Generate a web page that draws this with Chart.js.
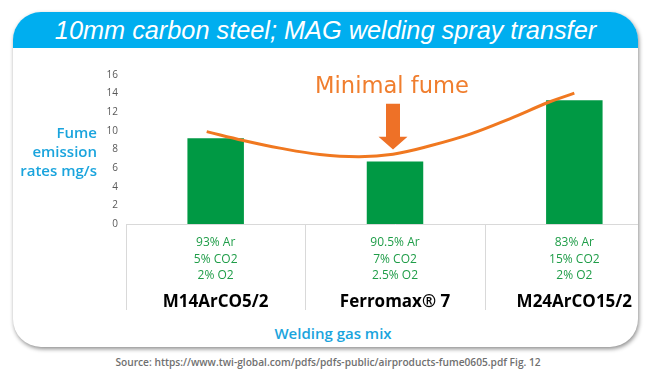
<!DOCTYPE html>
<html>
<head>
<meta charset="utf-8">
<script src="https://cdn.jsdelivr.net/npm/chart.js@4/dist/chart.umd.min.js"></script>
<style>
  body { margin: 0; background: #fff; width: 650px; height: 376px; position: relative; overflow: hidden; }
  #card { position: absolute; left: 13px; top: 12px; width: 625px; height: 335px; border-radius: 28px;
    overflow: hidden; background: #fff; box-shadow: 1px 2px 4px rgba(0,0,0,0.45); }
  #head { position: absolute; left: 0; top: 0; width: 100%; height: 36px; background: #00AEEF;
    color: #fff; font: italic 25.3px "Liberation Sans", Arial, sans-serif; text-align: center; line-height: 36px; }
  #myChart { position: absolute; left: -13px; top: 48px; }
  .lbl { position: absolute; font-family: "Open Sans", sans-serif; font-weight: 600; }
  #ytitle { left: 0; top: 123px; width: 97px; text-align: right; font-size: 15px; line-height: 19px; color: #1AA4DD; }
  #xtitle { left: 233px; top: 323px; width: 200px; text-align: center; font-size: 15px; line-height: 20px; color: #1AA4DD; }
  #source { left: 0; top: 354px; width: 656px; text-align: center; font-size: 10.2px; line-height: 16px; color: #707070; }
</style>
</head>
<body>
<div id="card">
  <div id="head">10mm carbon steel; MAG welding spray transfer</div>
  <canvas id="myChart" width="680" height="254"></canvas>
</div>
<div class="lbl" id="ytitle">Fume<br>emission<br>rates mg/s</div>
<div class="lbl" id="xtitle">Welding gas mix</div>
<div class="lbl" id="source">Source: https://www.twi-global.com/pdfs/pdfs-public/airproducts-fume0605.pdf Fig. 12</div>
<script>
const gasNames = ['M14ArCO5/2', 'Ferromax® 7', 'M24ArCO15/2']
const gasMix = [
	['93% Ar', '5% CO2', '2% O2'],
	['90.5% Ar', '7% CO2', '2.5% O2'],
	['83% Ar', '15% CO2', '2% O2']
]
const fumeRates = [9.2, 6.7, 13.3]
// trend curve: x in category index units
const curveX = [-0.05, 0.156, 0.358, 0.581, 0.8, 0.989, 1.196, 1.419, 1.64, 1.86, 2.0]
const curveY = [9.92, 8.96, 8.15, 7.47, 7.23, 7.5, 8.4, 9.65, 11.3, 13.1, 14.05]
const yTicks = [0, 2, 4, 6, 8, 10, 12, 14, 16]

const green = '#009944'
const orange = '#F07820'

// dividers under the axis + "Minimal fume" arrow
const decor = {
	id: 'decor',
	afterDraw(chart) {
		const ctx = chart.ctx
		const x = chart.scales.x, xn = chart.scales.xn, y = chart.scales.y
		ctx.save()
		ctx.strokeStyle = '#d9d9d9'
		ctx.lineWidth = 1
		for (let i = 0; i <= gasNames.length; i++) {
			const px = Math.round(x.getPixelForValue(i - 0.5)) + 0.5
			ctx.beginPath()
			ctx.moveTo(px, x.top)
			ctx.lineTo(px, xn.bottom - 4)
			ctx.stroke()
		}
		const cx = x.getPixelForValue(1) - 2
		const top = y.getPixelForValue(12.9), neck = y.getPixelForValue(9.37), tip = y.getPixelForValue(8.0)
		ctx.fillStyle = '#EE7127'
		ctx.beginPath()
		ctx.moveTo(cx - 7, top); ctx.lineTo(cx + 7, top); ctx.lineTo(cx + 7, neck)
		ctx.lineTo(cx + 14.5, neck); ctx.lineTo(cx, tip); ctx.lineTo(cx - 14.5, neck)
		ctx.lineTo(cx - 7, neck); ctx.closePath()
		ctx.fill()
		ctx.fillStyle = '#F07E2E'
		ctx.font = '22.6px "DejaVu Sans", sans-serif'
		ctx.textAlign = 'center'
		ctx.textBaseline = 'alphabetic'
		ctx.fillText('Minimal fume', cx - 1, y.getPixelForValue(14.08))
		ctx.restore()
	}
}

window.onload = () => {
	const ctx = document.getElementById('myChart').getContext('2d')
	new Chart(ctx, {
		type: 'bar',
		data: {
			datasets: [
				{
					type: 'line',
					data: curveX.map((v, i) => ({x: v, y: curveY[i]})),
					xAxisID: 'xc',
					borderColor: orange,
					borderWidth: 3,
					pointRadius: 0,
					tension: 0.4,
					order: 0
				},
				{
					type: 'bar',
					data: fumeRates,
					xAxisID: 'x',
					backgroundColor: green,
					grouped: false,
					categoryPercentage: 1,
					barPercentage: 0.315,
					order: 1
				}
			]
		},
		options: {
			responsive: false,
			animation: false,
			layout: {padding: {left: 0, right: 16, top: 15, bottom: 0}},
			plugins: {legend: {display: false}, tooltip: {enabled: false}},
			scales: {
				x: {
					type: 'category',
					labels: gasMix,
					position: 'bottom',
					weight: 0,
					offset: true,
					grid: {display: false, drawTicks: false},
					border: {display: true, color: '#d9d9d9'},
					ticks: {color: '#1F9D48', padding: 10, maxRotation: 0, autoSkip: false,
						font: {family: 'Open Sans', size: 12, lineHeight: 1.4}},
					afterFit: s => { s.height = 60 }
				},
				xn: {
					type: 'category',
					labels: gasNames,
					position: 'bottom',
					weight: 1,
					offset: true,
					grid: {display: false, drawTicks: false},
					border: {display: false},
					ticks: {color: '#000', padding: 8, maxRotation: 0, autoSkip: false,
						font: {family: 'Open Sans', size: 17, weight: 'bold', lineHeight: 1.2}},
					afterFit: s => { s.height = 30 }
				},
				xc: {type: 'linear', min: -0.5, max: 2.5, offset: false, display: false},
				y: {
					min: 0,
					max: 16,
					afterBuildTicks: s => { s.ticks = yTicks.map(v => ({value: v})) },
					grid: {display: false, drawTicks: false},
					border: {display: false},
					ticks: {color: '#595959', padding: 8, font: {family: 'Open Sans', size: 10}},
					afterFit: s => { s.width = 126 }
				}
			}
		},
		plugins: [decor]
	})
}
</script>
</body>
</html>
